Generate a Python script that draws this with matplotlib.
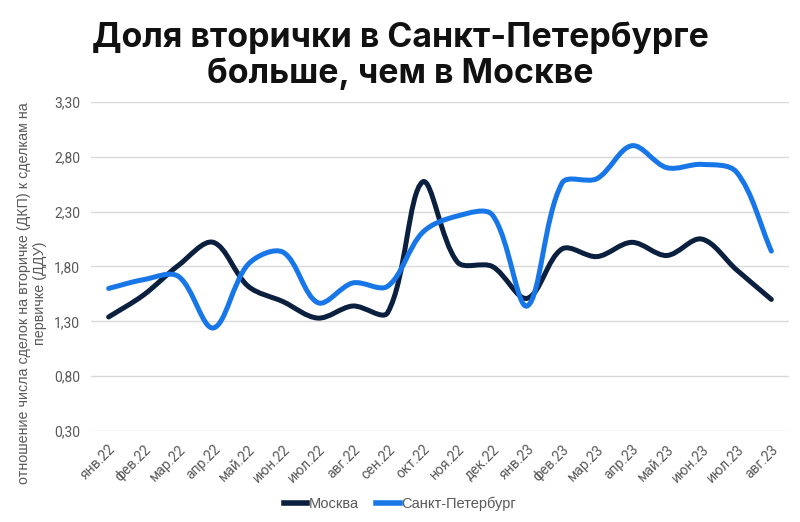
import matplotlib
matplotlib.use('Agg')
import matplotlib.pyplot as plt
from matplotlib.path import Path
from matplotlib.patches import PathPatch
from matplotlib.lines import Line2D
import numpy as np

# Данные
months = ['янв.22', 'фев.22', 'мар.22', 'апр.22', 'май.22', 'июн.22', 'июл.22',
          'авг.22', 'сен.22', 'окт.22', 'ноя.22', 'дек.22', 'янв.23', 'фев.23',
          'мар.23', 'апр.23', 'май.23', 'июн.23', 'июл.23', 'авг.23']
moscow = [1.34, 1.54, 1.81, 2.02, 1.62, 1.48, 1.33, 1.44, 1.38, 2.57,
          1.84, 1.80, 1.51, 1.96, 1.89, 2.02, 1.90, 2.05, 1.77, 1.50]
spb = [1.60, 1.68, 1.71, 1.24, 1.82, 1.93, 1.47, 1.65, 1.62, 2.11,
       2.26, 2.27, 1.44, 2.56, 2.60, 2.90, 2.70, 2.73, 2.66, 1.94]
yticks = [0.30, 0.80, 1.30, 1.80, 2.30, 2.80, 3.30]

plt.rcParams['font.family'] = ['Liberation Sans', 'DejaVu Sans']
gray = '#595959'


def smooth_path(ys, yscale=3.14):
    # сглаженная линия в духе Excel (кривые Безье)
    pts = np.column_stack([np.arange(len(ys)), ys]).astype(float)
    n = len(pts)
    sc = np.array([1.0, yscale])

    def dist(a, b):
        return np.hypot(*((pts[b] - pts[a]) * sc))

    verts = [pts[0]]
    codes = [Path.MOVETO]
    for i in range(n - 1):
        i0, i3 = max(i - 1, 0), min(i + 2, n - 1)
        d01, d12, d23 = dist(i0, i), dist(i, i + 1), dist(i + 1, i3)
        t1 = (pts[i + 1] - pts[i0]) * d12 / (d01 + d12) / 3 if i > 0 else (pts[i + 1] - pts[i]) / 3
        t2 = (pts[i3] - pts[i]) * d12 / (d12 + d23) / 3 if i + 1 < n - 1 else (pts[i + 1] - pts[i]) / 3
        verts += [pts[i] + t1, pts[i + 1] - t2, pts[i + 1]]
        codes += [Path.CURVE4] * 3
    return Path(verts, codes)


fig = plt.figure(figsize=(8, 5.22), dpi=100)
ax = fig.add_axes([0.114, 0.174, 0.872, 0.631])

for ys, col in [(moscow, '#0b1f3f'), (spb, '#1877e8')]:
    ax.add_patch(PathPatch(smooth_path(ys), fill=False, edgecolor=col,
                           lw=3.6, capstyle='round', joinstyle='round', zorder=3))

ax.set_xlim(-0.5, len(months) - 0.5)
ax.set_ylim(0.30, 3.30)
ax.set_yticks(yticks)
ax.set_yticklabels([f'{v:.2f}'.replace('.', ',') for v in yticks],
                   color=gray, fontsize=10, family=['Roboto', 'DejaVu Sans'])
ax.set_xticks(range(len(months)))
ax.set_xticklabels(months, rotation=45, ha='right', rotation_mode='anchor',
                   color=gray, fontsize=10, family=['Roboto', 'DejaVu Sans'])
ax.tick_params(length=0, pad=8)
ax.grid(axis='y', color='#d9d9d9', lw=1)
ax.set_axisbelow(True)
for s in ax.spines.values():
    s.set_visible(False)

ax.set_ylabel('отношение числа сделок на вторичке (ДКП) к сделкам на\nпервичке (ДДУ)',
              color=gray, fontsize=10.3, linespacing=1.1)
ax.yaxis.set_label_coords(-0.064, 0.42)

handles = [Line2D([], [], color='#0b1f3f', lw=4),
           Line2D([], [], color='#1877e8', lw=4)]
fig.legend(handles, ['Москва', 'Санкт-Петербург'], loc='center',
           bbox_to_anchor=(0.5, 0.035), ncol=2, frameon=False,
           handlelength=1.6, handletextpad=0.1, columnspacing=1.2,
           labelcolor=gray, fontsize=10.5)

fig.text(0.5, 0.893, 'Доля вторички в Санкт-Петербурге\nбольше, чем в Москве',
         ha='center', va='center', fontsize=24.4, fontweight='bold',
         family=['Inter', 'DejaVu Sans'], linespacing=1.15, color='#111111')

fig.savefig('out.png', dpi=100)
